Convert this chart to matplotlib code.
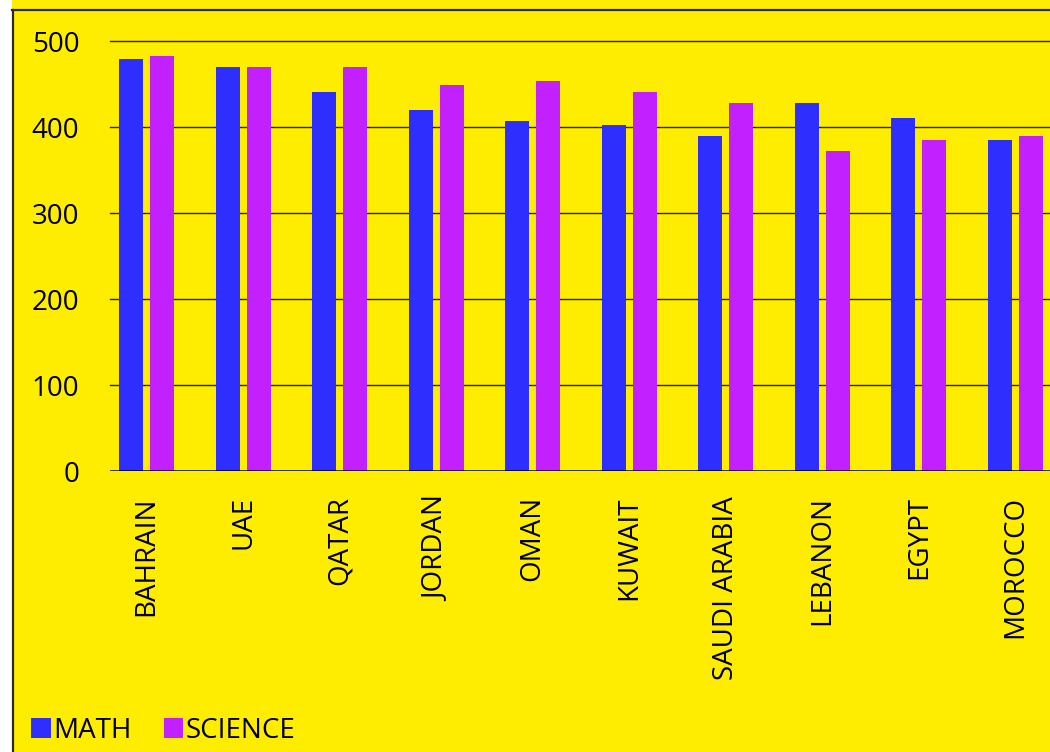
import matplotlib
matplotlib.use("Agg")
import matplotlib.pyplot as plt
from matplotlib.patches import Rectangle, Patch
from matplotlib.lines import Line2D
import numpy as np

countries = ["BAHRAIN", "UAE", "QATAR", "JORDAN", "OMAN", "KUWAIT",
             "SAUDI ARABIA", "LEBANON", "EGYPT", "MOROCCO"]
math_scores = [479, 470, 441, 420, 407, 402, 390, 428, 410, 385]
science_scores = [483, 470, 470, 449, 453, 441, 428, 372, 385, 390]
y_ticks = [0, 100, 200, 300, 400, 500]

YELLOW = "#ffed00"
MATH_C = "#2e2eff"
SCI_C = "#c220ff"
FONT = "Open Sans"
FS = 20

plt.rcParams["font.family"] = [FONT, "DejaVu Sans"]

W, H = 1050, 752
fig = plt.figure(figsize=(W / 100, H / 100), dpi=100, facecolor=YELLOW)

# white margin and dark frame edges
fig.patches.append(Rectangle((0, 0), 12 / W, 1, transform=fig.transFigure,
                             facecolor="white", edgecolor="none", zorder=0))
fig.lines.append(Line2D([12.8 / W, 12.8 / W], [0, 1 - 9.5 / H],
                        transform=fig.transFigure, color="#2a2a2a", lw=1.6))
fig.lines.append(Line2D([12 / W, 1], [1 - 9.8 / H, 1 - 9.8 / H],
                        transform=fig.transFigure, color="#2a2a2a", lw=1.6))

left, bottom_px, top_px = 110, 471, 41
cat_px = 96.56
ax = fig.add_axes([left / W, (H - bottom_px) / H, 10 * cat_px / W,
                   (bottom_px - top_px) / H])
ax.set_facecolor(YELLOW)

x = np.arange(len(countries))
bw = 0.2485
off = 0.1605
ax.bar(x - off, math_scores, width=bw, color=MATH_C, label="MATH", zorder=3)
ax.bar(x + off, science_scores, width=bw, color=SCI_C, label="SCIENCE", zorder=3)

ax.set_xlim(-0.378, 9.622)
ax.set_ylim(0, 500)
ax.set_yticks(y_ticks)
ax.set_yticklabels([str(v) for v in y_ticks], fontsize=FS)
ax.set_xticks(x)
ax.set_xticklabels(countries, rotation=90, fontsize=FS, va="top", ha="center")
ax.tick_params(axis="both", length=0)
ax.tick_params(axis="y", pad=22)
ax.tick_params(axis="x", pad=18)

for v in y_ticks[1:]:
    ax.axhline(v, color="#222222", lw=1.0, zorder=1, clip_on=False)
ax.axhline(0, color="black", lw=1.1, zorder=4)
for s in ax.spines.values():
    s.set_visible(False)

handles = [Patch(facecolor=MATH_C, edgecolor="none"),
           Patch(facecolor=SCI_C, edgecolor="none")]
fig.legend(handles, ["MATH", "SCIENCE"], loc="lower left",
           bbox_to_anchor=(20 / W, -4 / H), ncol=2, frameon=False,
           fontsize=FS, handlelength=0.7, handleheight=0.7,
           handletextpad=0.1, columnspacing=1.15, borderaxespad=0)

fig.savefig("out.png", dpi=100, facecolor=YELLOW)
